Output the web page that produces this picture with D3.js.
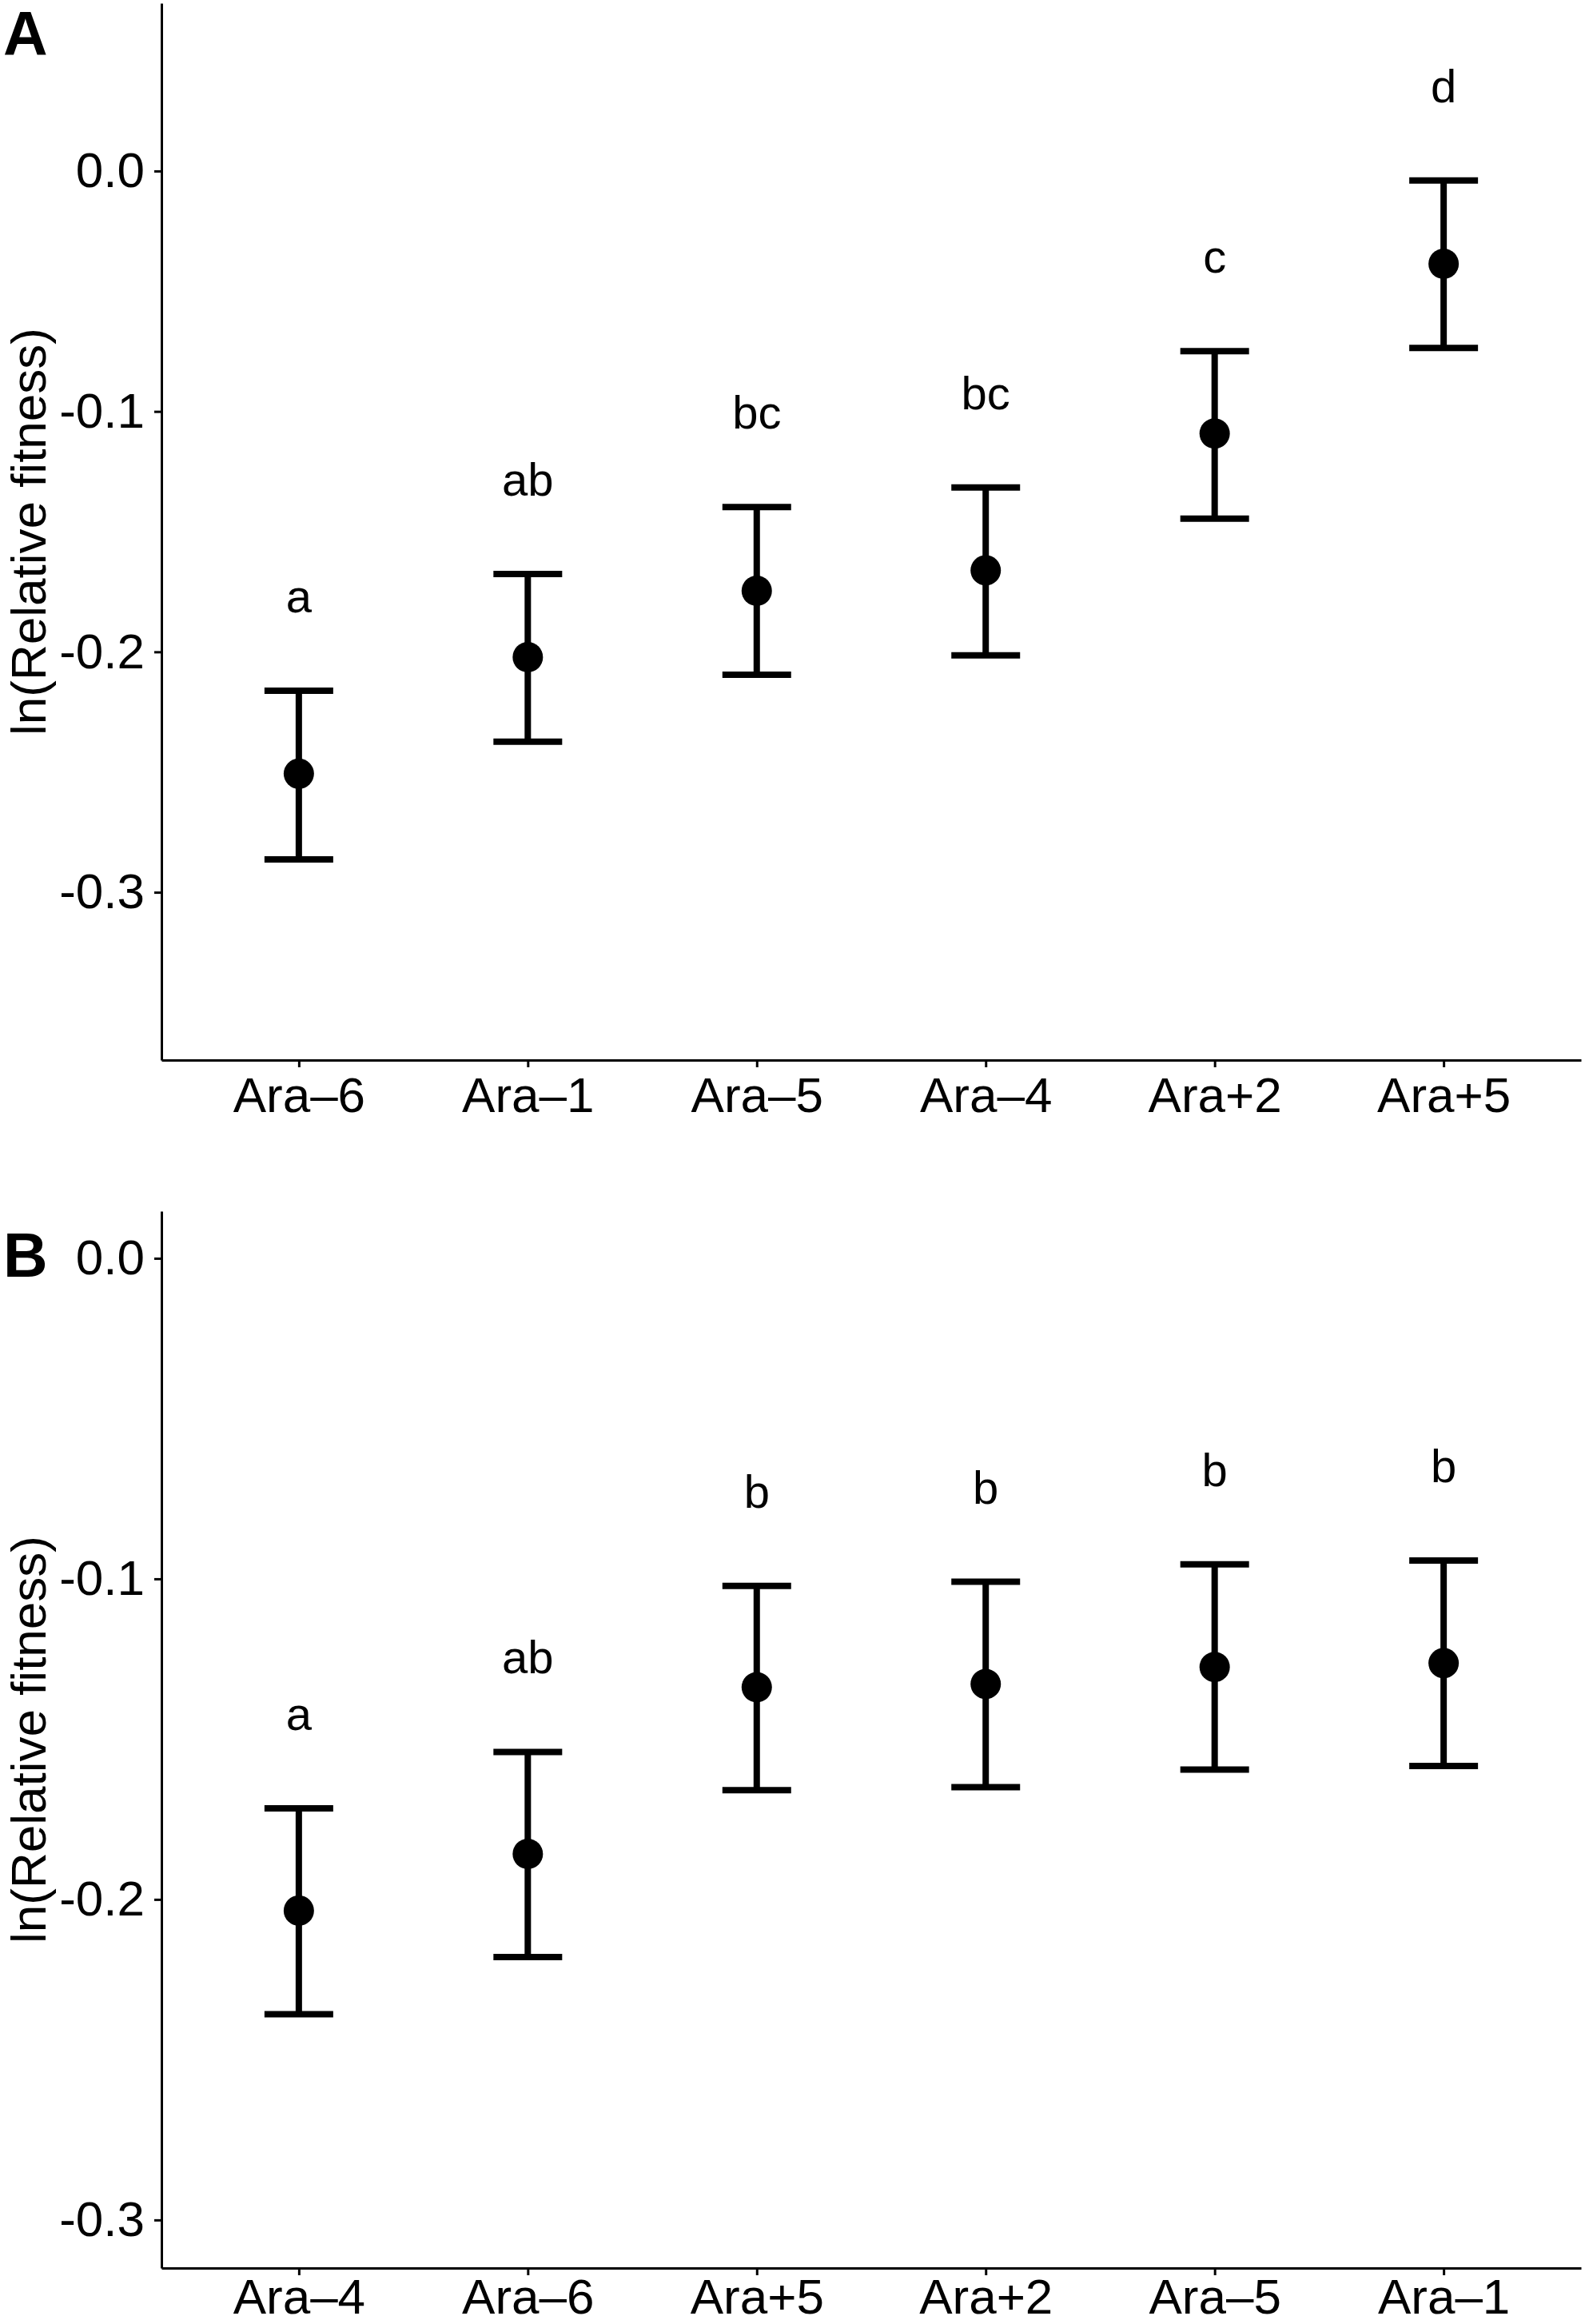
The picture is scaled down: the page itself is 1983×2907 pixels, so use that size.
<!DOCTYPE html>
<html>
<head>
<meta charset="utf-8">
<script src="https://cdn.jsdelivr.net/npm/d3@7"></script>
<style>
	body { margin: 0; background: #fff; }
	text { font-family: "Liberation Sans", Arial, sans-serif; fill: #000; }
</style>
</head>
<body>
<svg id="chart" width="1983" height="2907"></svg>
<script>
// Panel A
const strainsA = ['Ara–6', 'Ara–1', 'Ara–5', 'Ara–4', 'Ara+2', 'Ara+5'];
const meanA = [-0.2507, -0.2022, -0.1746, -0.1661, -0.1092, -0.0386];
const upperA = [-0.2162, -0.1676, -0.1398, -0.1316, -0.0749, -0.0039];
const lowerA = [-0.2863, -0.2374, -0.2095, -0.2015, -0.1446, -0.0736];
const lettersA = ['a', 'ab', 'bc', 'bc', 'c', 'd'];

// Panel B
const strainsB = ['Ara–4', 'Ara–6', 'Ara+5', 'Ara+2', 'Ara–5', 'Ara–1'];
const meanB = [-0.2035, -0.1858, -0.1338, -0.1328, -0.1275, -0.1263];
const upperB = [-0.1716, -0.1540, -0.1022, -0.1009, -0.0955, -0.0943];
const lowerB = [-0.2358, -0.2180, -0.1659, -0.1650, -0.1595, -0.1584];
const lettersB = ['a', 'ab', 'b', 'b', 'b', 'b'];

const yTicks = [0, -0.1, -0.2, -0.3];
const yAxisLabel = 'ln(Relative fitness)';

const svg = d3.select('#chart');

//draw one panel of mean +/- error bars with letter labels
const panel = (selection, props) => {
	const {
		tag, strains, mean, upper, lower, letters,
		yDomain, top, bottom, xPadding
	} = props;

	const left = 202;
	const right = 1978;

	const xScale = d3.scalePoint()
		.domain(strains)
		.range([left, right])
		.padding(0.6);

	const yScale = d3.scaleLinear()
		.domain(yDomain)
		.range([bottom, top]);

	const rows = strains.map((s, i) => ({
		strain: s, mean: mean[i], upper: upper[i], lower: lower[i], letter: letters[i]
	}));

	const g = selection.append('g');

	//axes
	const yAxis = d3.axisLeft(yScale)
		.tickValues(yTicks)
		.tickFormat(d => d.toFixed(1))
		.tickSize(9)
		.tickSizeOuter(0)
		.tickPadding(12);

	const xAxis = d3.axisBottom(xScale)
		.tickSize(9)
		.tickSizeOuter(0)
		.tickPadding(xPadding);

	const yAxisG = g.append('g')
		.attr('transform', `translate(${left},0)`)
		.call(yAxis);

	const xAxisG = g.append('g')
		.attr('transform', `translate(0,${bottom})`)
		.call(xAxis);

	[yAxisG, xAxisG].forEach(a => {
		a.selectAll('path, line').attr('stroke', '#000').attr('stroke-width', 3);
		a.selectAll('text')
			.attr('font-size', 62)
			.attr('font-family', '"Liberation Sans", Arial, sans-serif')
			.attr('fill', '#000');
	});

	//y axis title
	g.append('text')
		.attr('transform', `translate(57,${(top + bottom) / 2}) rotate(-90)`)
		.attr('text-anchor', 'middle')
		.attr('font-size', 62)
		.text(yAxisLabel);

	//panel tag
	g.append('text')
		.attr('x', 4)
		.attr('y', top + props.tagOffset)
		.attr('font-size', 77)
		.attr('font-weight', 'bold')
		.text(tag);

	const bars = g.selectAll('.bar').data(rows)
		.enter().append('g')
			.attr('class', 'bar');

	//vertical error line
	bars.append('line')
		.attr('x1', d => xScale(d.strain))
		.attr('x2', d => xScale(d.strain))
		.attr('y1', d => yScale(d.upper))
		.attr('y2', d => yScale(d.lower))
		.attr('stroke', '#000')
		.attr('stroke-width', 8);

	//caps
	['upper', 'lower'].forEach(k => {
		bars.append('line')
			.attr('x1', d => xScale(d.strain) - 43)
			.attr('x2', d => xScale(d.strain) + 43)
			.attr('y1', d => yScale(d[k]))
			.attr('y2', d => yScale(d[k]))
			.attr('stroke', '#000')
			.attr('stroke-width', 8);
	});

	//means
	bars.append('circle')
		.attr('cx', d => xScale(d.strain))
		.attr('cy', d => yScale(d.mean))
		.attr('r', 19)
		.attr('fill', '#000');

	//significance letters
	bars.append('text')
		.attr('x', d => xScale(d.strain))
		.attr('y', d => yScale(d.upper) - 98)
		.attr('text-anchor', 'middle')
		.attr('font-size', 58)
		.text(d => d.letter);
}

svg.call(panel, {
	tag: 'A',
	tagOffset: 65,
	strains: strainsA, mean: meanA, upper: upperA, lower: lowerA, letters: lettersA,
	yDomain: [-0.3698, 0.0698],
	top: 4,
	bottom: 1326,
	xPadding: 12
});

svg.call(panel, {
	tag: 'B',
	tagOffset: 82,
	strains: strainsB, mean: meanB, upper: upperB, lower: lowerB, letters: lettersB,
	yDomain: [-0.315, 0.0147],
	top: 1515,
	bottom: 2837,
	xPadding: 4
});
</script>
</body>
</html>
